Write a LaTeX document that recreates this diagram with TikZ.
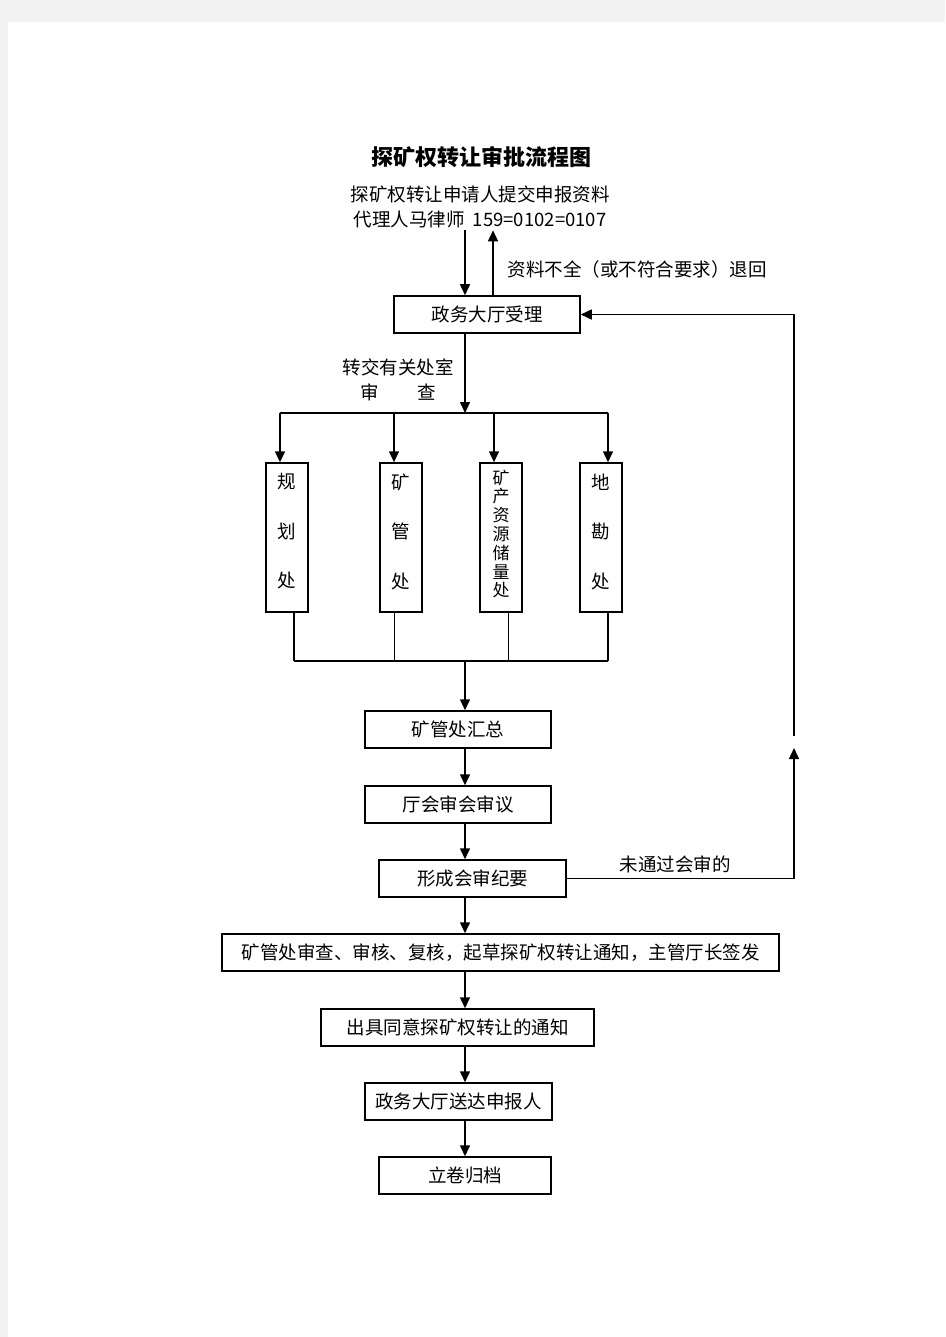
\documentclass[tikz,border=0pt]{standalone}
\usepackage{fontspec}
\setmainfont{Noto Sans CJK SC}
\usetikzlibrary{arrows.meta}

\begin{document}
\begin{tikzpicture}[x=1pt, y=-1pt,
    every node/.style={font=\fontsize{18.5}{25}\selectfont, inner sep=2pt},
    box/.style={draw, line width=1.5pt, minimum height=37, inner sep=0pt},
    vbox/.style={draw, line width=1.5pt, minimum width=42, minimum height=149, inner sep=0pt},
    arr/.style={line width=1.5pt, -{Triangle[width=10pt, length=11pt]}},
    link/.style={line width=1.5pt}]
        % page
        \fill[black!5] (0,0) rectangle (945,1337);
        \fill[white] (8,22) rectangle (945,1337);
        \coordinate (spine) at (465,0);
        \coordinate (back) at (493,0);

        \node[font=\fontsize{22}{26}\selectfont\bfseries] (title) at (481,157) {探矿权转让审批流程图};
        \node[align=center] (apply) at (480,207) {探矿权转让申请人提交申报资料\\代理人马律师\ \ 159=0102=0107};
        \node (lack) at (637,269) {资料不全（或不符合要求）退回};

        \node[box, minimum width=186] (accept) at (487,314.5) {政务大厅受理};
        \node[align=center] (pass) at (398,380) {转交有关处室\\审\hspace{39pt}查};

        % review offices
        \node[vbox] (plan) at (287,537.5) {};
        \node[vbox] (mine) at (401,537.5) {};
        \node[vbox] (res) at (501,537.5) {};
        \node[vbox] (geo) at (601,537.5) {};
        \node[align=center] (plan-t) at (287,531.5) {规\\[24.5pt]划\\[24.5pt]处};
        \node[align=center] (mine-t) at (401,531.5) {矿\\[24.5pt]管\\[24.5pt]处};
        \node[align=center, font=\fontsize{17}{18.8}\selectfont] (res-t) at (501,534) {矿\\产\\资\\源\\储\\量\\处};
        \node[align=center] (geo-t) at (601,531.5) {地\\[24.5pt]勘\\[24.5pt]处};

        \node[box, minimum width=186] (sum) at (458,729.5) {矿管处汇总};
        \node[box, minimum width=186] (meet) at (458,804.5) {厅会审会审议};
        \node[box, minimum width=187] (minutes) at (472.5,878.5) {形成会审纪要};
        \node (fail) at (675,864) {未通过会审的};
        \node[box, minimum width=557] (check) at (500.5,952.5) {矿管处审查、审核、复核，起草探矿权转让通知，主管厅长签发};
        \node[box, minimum width=273] (notice) at (457.5,1027.5) {出具同意探矿权转让的通知};
        \node[box, minimum width=187] (send) at (458.5,1101.5) {政务大厅送达申报人};
        \node[box, minimum width=172] (file) at (465,1175.5) {立卷归档};

        % connectors
        \draw[arr] (apply.south -| spine) -- (accept.north -| spine);
        \draw[arr] (accept.north -| back) -- (apply.south -| back);
        \coordinate (split) at (465,413);
        \coordinate (join) at (465,661);
        \draw[arr] (accept.south -| spine) -- (split);
        \foreach \name/\ix/\ox/\w in {plan/280/294/1.5pt, mine/394/394/0.8pt, res/494/508/0.8pt, geo/608/608/1.5pt} {
            \coordinate (\name-in) at (\ix,413);
            \coordinate (\name-out) at (\ox,661);
            \draw[arr] (\name-in) -- (\name.north -| \name-in);
            \draw[line width=\w] (\name.south -| \name-out) -- (\name-out);
        }
        \draw[link] (plan-in) -- (geo-in);
        \draw[link] (plan-out) -- (geo-out);
        \draw[arr] (join) -- (sum.north -| spine);
        \draw[arr] (sum.south -| spine) -- (meet.north -| spine);
        \draw[arr] (meet.south -| spine) -- (minutes.north -| spine);
        \draw[arr] (minutes.south -| spine) -- (check.north -| spine);
        \draw[arr] (check.south -| spine) -- (notice.north -| spine);
        \draw[arr] (notice.south -| spine) -- (send.north -| spine);
        \draw[arr] (send.south -| spine) -- (file.north -| spine);

        % not passed: back to the hall
        \coordinate (turn) at (794,748);
        \coordinate (resume) at (794,736);
        \draw[arr] (minutes.east) -| (turn);
        \draw[arr] (resume) |- (accept.east);
    \end{tikzpicture}
\end{document}
